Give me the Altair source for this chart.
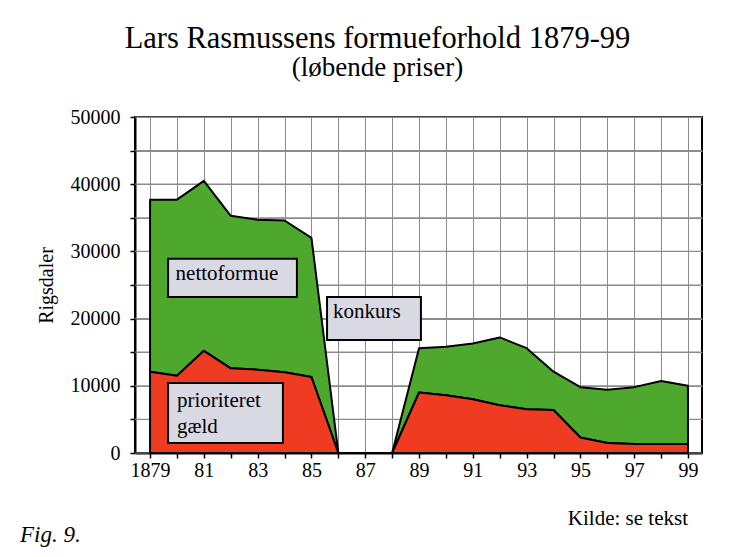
import altair as alt
import pandas as pd

# ---- data ----
years = list(range(1879, 1900))
total = [37700, 37700, 40500, 35300, 34700, 34600, 32000, 0, 0, 0,
         15600, 15800, 16300, 17200, 15600, 12100, 9800, 9400, 9800, 10700, 10000]
gaeld = [12100, 11500, 15200, 12600, 12400, 12000, 11300, 0, 0, 0,
         9000, 8600, 8000, 7100, 6500, 6400, 2300, 1500, 1350, 1350, 1350]

box_text = ["nettoformue", "konkurs", "prioriteret\ngæld"]
box_x1 = [1879.67, 1885.58, 1879.67]
box_x2 = [1884.46, 1889.07, 1883.94]
box_y1 = [23200, 16800, 1500]
box_y2 = [28900, 23200, 10400]
text_x = [1879.95, 1885.80, 1880.0]
text_y = [26600, 21000, 7750]

x_ticks = years
y_ticks = list(range(0, 50001, 5000))
x_domain = [1878.44, 1899.52]

SERIF = "Liberation Serif"
GREEN = "#4ea82e"
RED = "#ef3b22"
GRID = "#8c8c8c"

df = pd.DataFrame({"year": years, "total": total, "gaeld": gaeld})
boxes = pd.DataFrame({"label": box_text, "x1": box_x1, "x2": box_x2,
                      "y1": box_y1, "y2": box_y2, "tx": text_x, "ty": text_y})
# horizontal grid lines as two-point lines, one per tick value
ygrid = pd.DataFrame({
    "v": [v for v in y_ticks for _ in x_domain],
    "gx": [x for _ in y_ticks for x in x_domain],
    "g": [str(v) for v in y_ticks for _ in x_domain],
})

xscale = alt.Scale(domain=x_domain, nice=False, zero=False)
yscale = alt.Scale(domain=[0, 50000], nice=False)

xaxis = alt.Axis(values=x_ticks, format="d",
                 labelExpr="datum.value == 1879 ? '1879' : (datum.value % 2 == 1 ? substring(toString(datum.value), 2) : '')",
                 grid=True, gridColor=GRID, gridWidth=1, gridOpacity=1,
                 tickSize=5, tickColor="black", tickWidth=1.5,
                 domainColor="black", domainWidth=2,
                 labelFont=SERIF, labelFontSize=20, labelColor="black",
                 labelPadding=2, title=None, labelFlush=False, labelOverlap=False)
yaxis = alt.Axis(values=y_ticks, format="d",
                 labelExpr="datum.value % 10000 == 0 ? datum.label : ''",
                 grid=True, gridColor=GRID, gridWidth=1, gridOpacity=1,
                 tickSize=5, tickColor="black", tickWidth=1.5,
                 domainColor="black", domainWidth=2,
                 labelFont=SERIF, labelFontSize=20, labelColor="black",
                 labelPadding=10, title="Rigsdaler", titleFont=SERIF,
                 titleFontSize=20, titleFontWeight="normal", titleColor="black",
                 titlePadding=14, labelOverlap=False)

grid_lines = alt.Chart(ygrid).mark_line(color=GRID, strokeWidth=1.2).encode(
    x=alt.X("gx:Q", scale=xscale, axis=xaxis),
    y=alt.Y("v:Q", scale=yscale, axis=yaxis),
    detail="g:N",
)

base = alt.Chart(df)

green_area = base.mark_area(color=GREEN, stroke="black", strokeWidth=2, strokeJoin="round").encode(
    x=alt.X("year:Q", scale=xscale, axis=xaxis),
    y=alt.Y("total:Q", scale=yscale, axis=yaxis),
    y2="gaeld:Q",
)
red_area = base.mark_area(color=RED, stroke="black", strokeWidth=2, strokeJoin="round").encode(
    x=alt.X("year:Q", scale=xscale, axis=xaxis),
    y=alt.Y("gaeld:Q", scale=yscale, axis=yaxis),
)

rects = alt.Chart(boxes).mark_rect(fill="#d9d9e3", stroke="black", strokeWidth=2).encode(
    x=alt.X("x1:Q", scale=xscale, axis=xaxis), x2="x2:Q",
    y=alt.Y("y1:Q", scale=yscale, axis=yaxis), y2="y2:Q",
)
labels = alt.Chart(boxes).mark_text(font=SERIF, fontSize=21, align="left",
                                    baseline="middle", color="black",
                                    lineBreak="\n", lineHeight=26).encode(
    x=alt.X("tx:Q", scale=xscale, axis=xaxis),
    y=alt.Y("ty:Q", scale=yscale, axis=yaxis),
    text="label:N",
)

kilde = alt.Chart(pd.DataFrame({"t": ["Kilde: se tekst"]})).mark_text(
    font=SERIF, fontSize=21, align="right", baseline="alphabetic", color="black"
).encode(text="t:N", x=alt.value(553), y=alt.value(408))
fig = alt.Chart(pd.DataFrame({"t": ["Fig. 9."]})).mark_text(
    font=SERIF, fontSize=23, fontStyle="italic", align="left", baseline="alphabetic", color="black"
).encode(text="t:N", x=alt.value(-115), y=alt.value(425))

chart = alt.layer(grid_lines, green_area, red_area, rects, labels, kilde, fig).properties(
    width=567, height=336,
    autosize=alt.AutoSizeParams(type="none"),
    padding={"left": 127, "top": 109, "right": 44, "bottom": 96},
    title=alt.TitleParams(
        text="Lars Rasmussens formueforhold 1879-99",
        subtitle="(løbende priser)",
        font=SERIF, fontSize=30.5, fontWeight="normal", color="black",
        subtitleFont=SERIF, subtitleFontSize=27, subtitleColor="black",
        anchor="middle", dx=-41, offset=26, subtitlePadding=1,
    ),
).configure(
    background="white", font=SERIF
).configure_view(
    stroke="black", strokeWidth=2
).configure_axis(
    labelFont=SERIF, titleFont=SERIF
).configure_text(font=SERIF)

chart.save("out.html", embed_options={"renderer": "svg", "actions": False})
